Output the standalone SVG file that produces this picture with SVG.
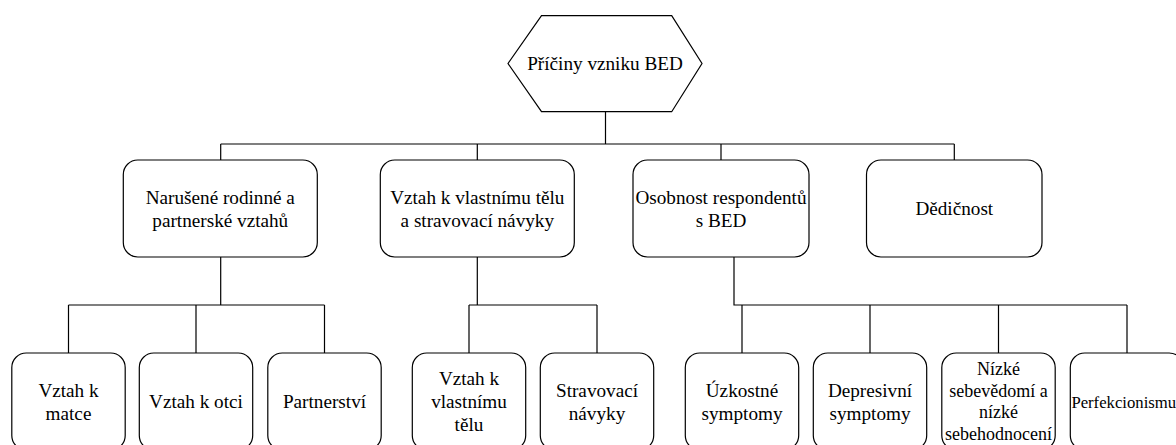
<svg xmlns="http://www.w3.org/2000/svg" width="1176" height="445" viewBox="0 0 1176 445">
<style>
.box{fill:#fff;stroke:#000;stroke-width:1.2}
.ln{fill:none;stroke:#000;stroke-width:1.2}
text{font-family:'Liberation Serif','Times New Roman','DejaVu Serif',serif;font-size:19.2px;fill:#000;text-anchor:middle}
.s18{font-size:18px}
.s17{font-size:16.7px}
</style>
<rect width="1176" height="445" fill="#fff"/>
<g id="connectors">
<path class="ln" d="M605.5 111.7V144M220.7 144H954.3M220.7 144V160M477.3 144V160M721 144V160M954.3 144V160"/>
<path class="ln" d="M220.7 257V305M68.5 305H324.5M68.5 305V353M196 305V353M324.5 305V353"/>
<path class="ln" d="M477.3 257V305M469 305H597M469 305V353M597 305V353"/>
<path class="ln" d="M734 257V305H1127M742 305V353M870 305V353M998.5 305V353M1127 305V353"/>
</g>
<g id="root">
<polygon class="box" points="508,63.5 541.5,15.7 671.7,15.7 702,63.5 671.7,111.7 541.5,111.7"/>
<text x="605" y="70">Příčiny vzniku BED</text>
</g>
<g id="n1">
<rect class="box" x="123.3" y="160" width="194" height="97" rx="14.5"/>
<text x="220.3" y="203.5">Narušené rodinné a</text>
<text x="220.3" y="226.5">partnerské vztahů</text>
</g>
<g id="n2">
<rect class="box" x="380.3" y="160" width="194" height="97" rx="14.5"/>
<text x="477.3" y="203.5">Vztah k vlastnímu tělu</text>
<text x="477.3" y="226.5">a stravovací návyky</text>
</g>
<g id="n3">
<rect class="box" x="633" y="160" width="176" height="97" rx="14.5"/>
<text x="721" y="203.5">Osobnost respondentů</text>
<text x="721" y="226.5">s BED</text>
</g>
<g id="n4">
<rect class="box" x="866.5" y="160" width="175.5" height="97" rx="14.5"/>
<text x="954.3" y="215">Dědičnost</text>
</g>
<g id="a">
<rect class="box" x="11.8" y="353" width="113.4" height="97" rx="14.5"/>
<text x="68.5" y="396.5">Vztah k</text>
<text x="68.5" y="419.5">matce</text>
</g>
<g id="b">
<rect class="box" x="139.3" y="353" width="113.4" height="97" rx="14.5"/>
<text x="196" y="408">Vztah k otci</text>
</g>
<g id="c">
<rect class="box" x="267.8" y="353" width="113.4" height="97" rx="14.5"/>
<text x="324.5" y="408">Partnerství</text>
</g>
<g id="d">
<rect class="box" x="412.3" y="353" width="113.4" height="97" rx="14.5"/>
<text x="469" y="385">Vztah k</text>
<text x="469" y="408">vlastnímu</text>
<text x="469" y="431">tělu</text>
</g>
<g id="e">
<rect class="box" x="540.3" y="353" width="113.4" height="97" rx="14.5"/>
<text x="597" y="396.5">Stravovací</text>
<text x="597" y="419.5">návyky</text>
</g>
<g id="f">
<rect class="box" x="685.3" y="353" width="113.4" height="97" rx="14.5"/>
<text x="742" y="396.5">Úzkostné</text>
<text x="742" y="419.5">symptomy</text>
</g>
<g id="g">
<rect class="box" x="813.3" y="353" width="113.4" height="97" rx="14.5"/>
<text x="870" y="396.5">Depresivní</text>
<text x="870" y="419.5">symptomy</text>
</g>
<g id="h">
<rect class="box" x="941.8" y="353" width="113.4" height="97" rx="14.5"/>
<text class="s18" x="998.5" y="375">Nízké</text>
<text class="s18" x="998.5" y="396.6">sebevědomí a</text>
<text class="s18" x="998.5" y="418.2">nízké</text>
<text class="s18" x="998.5" y="439.8">sebehodnocení</text>
</g>
<g id="i">
<rect class="box" x="1070.3" y="353" width="113.4" height="97" rx="14.5"/>
<text class="s17" x="1127" y="407.5">Perfekcionismus</text>
</g>
</svg>
